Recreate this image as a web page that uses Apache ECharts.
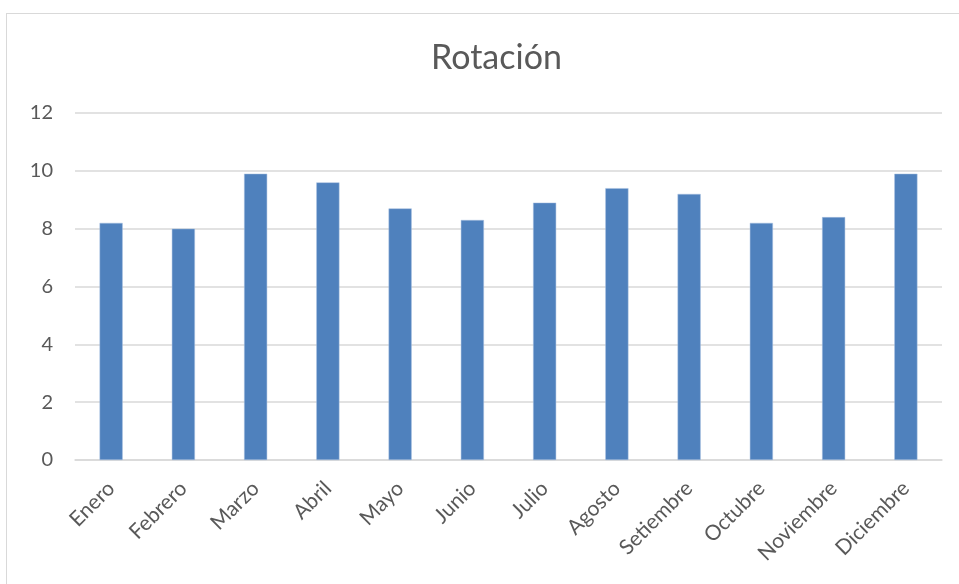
<!DOCTYPE html>
<html>
<head>
<meta charset="utf-8">
<script src="https://cdn.jsdelivr.net/npm/echarts@6/dist/echarts.min.js"></script>
<style>
  html, body { margin: 0; padding: 0; background: #fff; }
  #frame { position: absolute; left: 6px; top: 13px; width: 960px; height: 580px; border: 1px solid #d9d9d9; box-sizing: border-box; }
  #chart { width: 959px; height: 584px; }
</style>
</head>
<body>
<div id="frame"></div>
<div id="chart"></div>
<script>
// Monthly rotation figures
const months = ['Enero', 'Febrero', 'Marzo', 'Abril', 'Mayo', 'Junio', 'Julio', 'Agosto', 'Setiembre', 'Octubre', 'Noviembre', 'Diciembre'];
const rotation = [8.2, 8.0, 9.9, 9.6, 8.7, 8.3, 8.9, 9.4, 9.2, 8.2, 8.4, 9.9];
const yTicks = { min: 0, max: 12, interval: 2 };

const chart = echarts.init(document.getElementById('chart'), null, { renderer: 'canvas' });
const font = 'Lato, "Open Sans", sans-serif';

chart.setOption({
  animation: false,
  title: {
    text: 'Rotación',
    left: 426,
    top: 36,
    textStyle: { fontFamily: font, fontSize: 34, fontWeight: 'normal', color: '#595959' }
  },
  grid: { left: 75, right: 17, top: 113, bottom: 124, containLabel: false },
  xAxis: {
    type: 'category',
    data: months,
    axisLine: { lineStyle: { color: '#d9d9d9', width: 1.5 } },
    axisTick: { show: false },
    axisLabel: {
      rotate: 45,
      interval: 0,
      margin: 25,
      fontFamily: font,
      fontSize: 21,
      color: '#595959'
    }
  },
  yAxis: {
    type: 'value',
    min: yTicks.min,
    max: yTicks.max,
    interval: yTicks.interval,
    axisLine: { show: false },
    axisTick: { show: false },
    splitLine: { lineStyle: { color: '#d9d9d9', width: 1.5 } },
    axisLabel: { fontFamily: font, fontSize: 20, color: '#595959', margin: 22 }
  },
  series: [{
    type: 'bar',
    data: rotation,
    barWidth: '32%',
    itemStyle: { color: '#4f81bd', borderColor: '#a9c0e0', borderWidth: 0.5 }
  }]
});
</script>
</body>
</html>
